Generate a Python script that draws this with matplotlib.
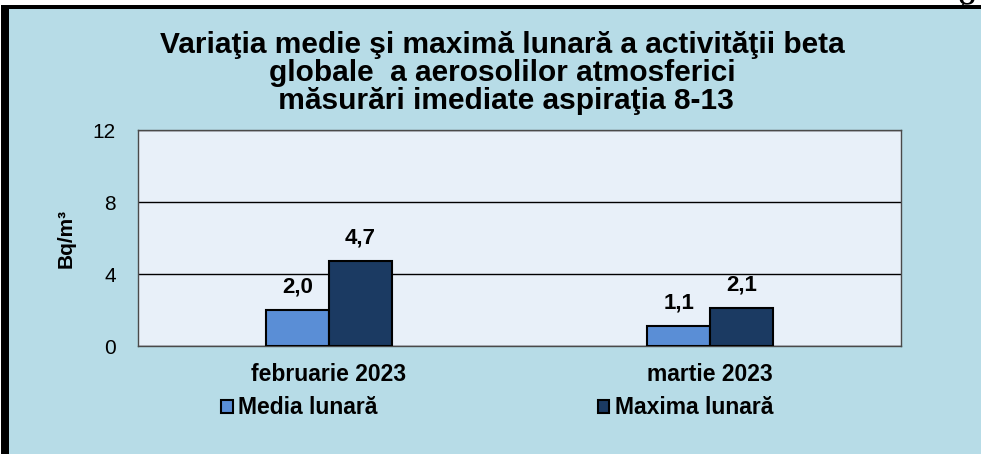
import numpy as np
import matplotlib
matplotlib.use("Agg")
import matplotlib.pyplot as plt
from matplotlib.patches import Rectangle

plt.rcParams["font.family"] = ["Liberation Sans", "DejaVu Sans"]

# ── Date ──────────────────────────────────────────────────────────────────────
categories = ["februarie 2023", "martie 2023"]
media      = [2.0, 1.1]
maxima     = [4.7, 2.1]
series_names = ["Media lunară", "Maxima lunară"]
yticks     = [0, 4, 8, 12]

title = ("Variaţia medie şi maximă lunară a activităţii beta\n"
         "globale  a aerosolilor atmosferici\n"
         " măsurări imediate aspiraţia 8-13")

PANEL = "#b7dce7"
PLOT_BG = "#e8f0f9"
C_MED = "#5a8ed6"
C_MAX = "#1b3a62"

fig = plt.figure(figsize=(9.81, 4.54), dpi=100)
fig.patch.set_facecolor("white")

# fragment de text tăiat din pagină (colţ dreapta sus)
fig.text(0.985, 0.975, "g", fontsize=30, family="Liberation Serif",
         ha="center", va="baseline", zorder=0)

# panou albastru cu chenar negru stânga/sus
fig.patches.append(Rectangle((9/981, 0), 1, 1 - 9/454, transform=fig.transFigure,
                             facecolor=PANEL, edgecolor="none", zorder=1))
fig.patches.append(Rectangle((1/981, 0), 8/981, 1 - 5/454, transform=fig.transFigure,
                             facecolor="black", edgecolor="none", zorder=2))
fig.patches.append(Rectangle((1/981, 1 - 9/454), 1, 4/454, transform=fig.transFigure,
                             facecolor="black", edgecolor="none", zorder=2))

ax = fig.add_axes([138/981, 108/454, 763/981, 216/454], zorder=3)
ax.set_facecolor(PLOT_BG)

x = np.arange(len(categories))
w = 0.165
b1 = ax.bar(x - w/2, media,  w, color=C_MED, edgecolor="black", linewidth=1.5,
            label=series_names[0], zorder=3)
b2 = ax.bar(x + w/2, maxima, w, color=C_MAX, edgecolor="black", linewidth=1.5,
            label=series_names[1], zorder=3)
for bars, vals in [(b1, media), (b2, maxima)]:
    ax.bar_label(bars, labels=[f"{v:.1f}".replace(".", ",") for v in vals],
                 padding=9, fontsize=16, fontweight="bold")

ax.set_xlim(-0.5, 1.5)
ax.set_ylim(0, 12)
ax.set_yticks(yticks)
ax.set_yticklabels([str(t) for t in yticks], fontsize=15)
ax.set_xticks(x)
ax.set_xticklabels(categories, fontsize=16.5, fontweight="bold")
ax.tick_params(axis="both", length=0)
ax.tick_params(axis="x", pad=12)
ax.tick_params(axis="y", pad=16)
ax.grid(axis="y", color="black", linewidth=1.0, zorder=1)
ax.set_axisbelow(True)
for s in ax.spines.values():
    s.set_color("#4a4a4a")
    s.set_linewidth(1.0)
ax.set_ylabel("Bq/m³", fontsize=15, fontweight="bold", labelpad=12)

fig.text(502/981, 1 - 73/454, title, ha="center", va="center",
         fontsize=21.5, fontweight="bold", linespacing=1.0, zorder=4)

leg = ax.legend(loc="center left", bbox_to_anchor=(212/981, 1 - 408/454),
                bbox_transform=fig.transFigure, ncol=2, frameon=False,
                fontsize=16.5, handlelength=0.5, handleheight=0.5,
                handletextpad=0.25, columnspacing=9.6, borderaxespad=0)
for t in leg.get_texts():
    t.set_fontweight("bold")

fig.savefig("out.png", dpi=100, facecolor=fig.get_facecolor())
